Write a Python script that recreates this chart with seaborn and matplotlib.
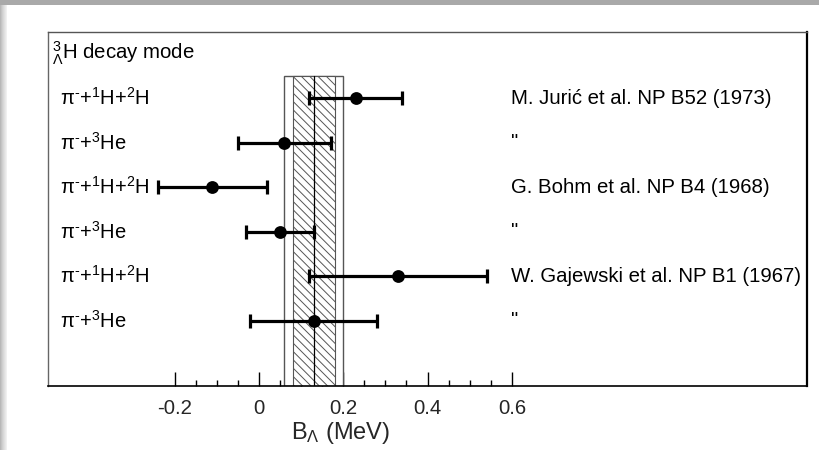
import numpy as np
import matplotlib
matplotlib.use("Agg")
import matplotlib.pyplot as plt
from matplotlib.patches import Rectangle
from matplotlib.ticker import FixedLocator
import matplotlib.transforms as mtransforms
import seaborn as sns
import pandas as pd

# Hypertriton binding energy measurements by decay mode
modes = [r"$\pi^{\text{-}}$+$^{1}$H+$^{2}$H", r"$\pi^{\text{-}}$+$^{3}$He",
         r"$\pi^{\text{-}}$+$^{1}$H+$^{2}$H", r"$\pi^{\text{-}}$+$^{3}$He",
         r"$\pi^{\text{-}}$+$^{1}$H+$^{2}$H", r"$\pi^{\text{-}}$+$^{3}$He"]
b_lambda = [0.23, 0.06, -0.11, 0.05, 0.33, 0.13]
b_err = [0.11, 0.11, 0.13, 0.08, 0.21, 0.15]
refs = ["M. Jurić et al. NP B52 (1973)", '"',
        "G. Bohm et al. NP B4 (1968)", '"',
        "W. Gajewski et al. NP B1 (1967)", '"']

# World average band: central value, statistical and total ranges
avg_value = 0.13
avg_stat = (0.08, 0.18)
avg_total = (0.06, 0.20)

major_ticks = [-0.2, 0.0, 0.2, 0.4, 0.6]
tick_labels = ["-0.2", "0", "0.2", "0.4", "0.6"]
minor_ticks = [-0.15, -0.1, -0.05, 0.05, 0.1, 0.15, 0.25, 0.3, 0.35, 0.45, 0.5, 0.55]

sns.set_theme(style="white")
plt.rcParams["font.family"] = ["Liberation Sans", "DejaVu Sans"]
plt.rcParams["mathtext.fontset"] = "custom"
plt.rcParams["mathtext.rm"] = "Liberation Sans"
plt.rcParams["mathtext.it"] = "Liberation Sans"
plt.rcParams["mathtext.bf"] = "Liberation Sans:bold"
plt.rcParams["mathtext.default"] = "regular"
plt.rcParams["hatch.color"] = "#555555"
plt.rcParams["hatch.linewidth"] = 0.7

df = pd.DataFrame({"row": np.arange(len(b_lambda)), "B": b_lambda, "err": b_err,
                   "mode": modes, "ref": refs})

fig = plt.figure(figsize=(8.19, 4.5), dpi=100, facecolor="white")

# window-style gray edges
fig.patches.append(Rectangle((0, 1 - 5 / 450), 1, 5 / 450, transform=fig.transFigure,
                             facecolor="#a9a9a9", edgecolor="none", zorder=0))
for i, c in enumerate(["#b8b8b8", "#c4c4c4", "#cfcfcf", "#d8d8d8", "#e0e0e0", "#e8e8e8", "#f0f0f0"]):
    fig.patches.append(Rectangle((i / 819, 0), 1 / 819, 1 - 5 / 450, transform=fig.transFigure,
                                 facecolor=c, edgecolor="none", zorder=0))

ax = fig.add_axes([48 / 819, 1 - 386 / 450, (807 - 48) / 819, (386 - 32) / 450])
ax.set_facecolor("white")
ax.set_xlim(-0.5, 1.3)
ax.set_ylim(6.47, -1.49)

# average band
band_top = -0.5
band_bot = 6.47
ax.add_patch(Rectangle((avg_total[0], band_top), avg_total[1] - avg_total[0], band_bot - band_top,
                       facecolor="white", edgecolor="#555555", linewidth=1.0, zorder=1))
ax.add_patch(Rectangle((avg_stat[0], band_top), avg_stat[1] - avg_stat[0], band_bot - band_top,
                       facecolor="white", edgecolor="#555555", linewidth=0.8, hatch="\\" * 4, zorder=1.5))
ax.plot([avg_value, avg_value], [band_top, band_bot], color="black", lw=0.9, zorder=2)

# measurements
ax.errorbar(df["B"], df["row"], xerr=df["err"], fmt="none", ecolor="black",
            elinewidth=2.3, capsize=4.8, capthick=2.3, zorder=3)
sns.scatterplot(data=df, x="B", y="row", ax=ax, color="black", s=85,
                edgecolor="black", linewidth=0, zorder=4, legend=False)

blend = mtransforms.blended_transform_factory(ax.transAxes, ax.transData)
for _, r in df.iterrows():
    ax.text(0.0158, r["row"], r["mode"], transform=blend, ha="left", va="center",
            fontsize=14.5, color="black")
    ax.text(0.6096, r["row"], r["ref"], transform=blend, ha="left", va="center",
            fontsize=14.7, color="black")

ax.text(0.005, -1.0, r"$^{3}_{\Lambda}$H decay mode", transform=blend, ha="left",
        va="center", fontsize=14.7, color="black")

ax.set_yticks([])
ax.xaxis.set_major_locator(FixedLocator(major_ticks))
ax.set_xticklabels(tick_labels)
ax.xaxis.set_minor_locator(FixedLocator(minor_ticks))
ax.tick_params(axis="x", which="major", direction="in", length=10, width=1,
               color="black", labelsize=14.7, pad=9, bottom=True, top=False)
ax.tick_params(axis="x", which="minor", direction="in", length=4.5, width=1,
               color="black", bottom=True, top=False)
ax.set_xlabel(r"B$_{\Lambda}$ (MeV)", fontsize=17)
ax.xaxis.set_label_coords(0.386, -0.097)
ax.set_ylabel("")

for side, col, lw in [("left", "#666666", 1.0), ("top", "#555555", 1.0),
                      ("right", "black", 1.6), ("bottom", "black", 1.2)]:
    ax.spines[side].set_visible(True)
    ax.spines[side].set_color(col)
    ax.spines[side].set_linewidth(lw)

fig.savefig("out.png", dpi=100, facecolor="white")
